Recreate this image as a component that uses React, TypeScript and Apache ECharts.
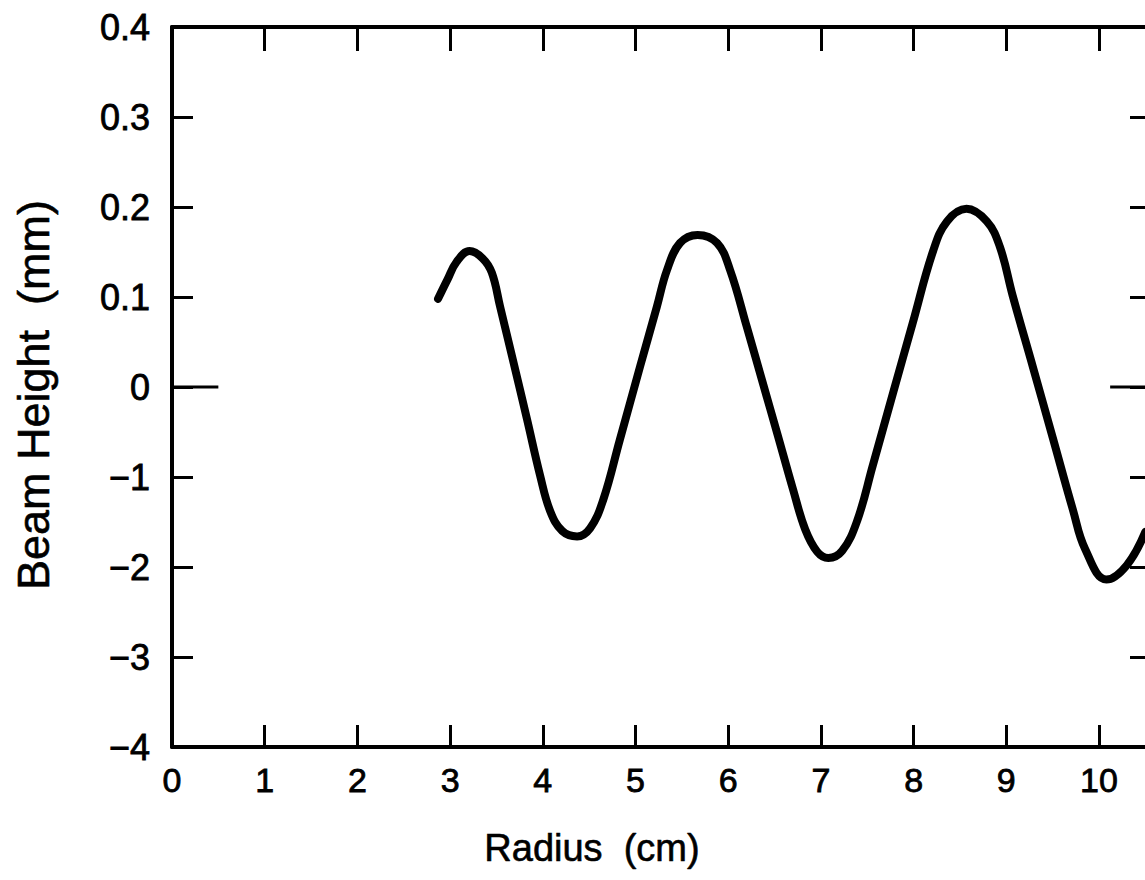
import React, { useEffect, useRef } from "react";
import * as echarts from "echarts";

// Radius (cm) of traced points along the curve
const radius = [2.87, 2.97, 3.07, 3.21, 3.35, 3.45, 3.54, 3.68, 3.83, 3.97, 4.08, 4.21, 4.37, 4.51, 4.65, 4.83, 5.05, 5.23, 5.34, 5.48, 5.67, 5.88, 6.02, 6.2, 6.38, 6.53, 6.7, 6.83, 6.96, 7.08, 7.23, 7.39, 7.56, 7.78, 7.99, 8.21, 8.36, 8.57, 8.79, 8.93, 9.07, 9.29, 9.5, 9.72, 9.85, 10.08, 10.3, 10.5];
// Beam height in axis tick units (tick +1 = "0.1" label, tick -1 = "−1" label)
const beamHeight = [0.98, 1.19, 1.39, 1.51, 1.43, 1.27, 0.89, 0.29, -0.36, -0.98, -1.38, -1.6, -1.66, -1.57, -1.26, -0.59, 0.23, 0.89, 1.3, 1.6, 1.69, 1.6, 1.3, 0.67, 0.02, -0.52, -1.14, -1.58, -1.83, -1.9, -1.82, -1.49, -0.87, -0.06, 0.71, 1.51, 1.84, 1.98, 1.84, 1.56, 1.01, 0.21, -0.56, -1.37, -1.8, -2.14, -1.98, -1.61];

const xTicks = [0, 1, 2, 3, 4, 5, 6, 7, 8, 9, 10];
const yTicks = [-4, -3, -2, -1, 0, 1, 2, 3, 4];
const yTickLabels = ["−4", "−3", "−2", "−1", "0", "0.1", "0.2", "0.3", "0.4"];

const X_MIN = 0;
const X_MAX = 10.55;
const Y_MIN = -4;
const Y_MAX = 4;

const FONT = "'Liberation Sans', Arial, Helvetica, sans-serif";

export default function App() {
  const ref = useRef<HTMLDivElement>(null);

  useEffect(() => {
    if (!ref.current) return;
    const chart = echarts.init(ref.current, undefined, { renderer: "svg" });
    const curve = radius.map((r, i) => [r, beamHeight[i]]);
    const axisLineStyle = { color: "#000", width: 4 };
    const tickStyle = { color: "#000", width: 3 };
    const heavy = { textBorderColor: "#000", textBorderWidth: 0.8 };

    chart.setOption({
      animation: false,
      backgroundColor: "#fff",
      grid: { left: 172, top: 27, width: 978, height: 720, containLabel: false },
      xAxis: [
        {
          type: "value",
          position: "bottom",
          min: X_MIN,
          max: X_MAX,
          interval: 1,
          axisLine: { show: true, onZero: false, lineStyle: axisLineStyle },
          axisTick: { show: true, inside: true, length: 22, lineStyle: tickStyle, customValues: xTicks.slice(1) },
          axisLabel: {
            show: true,
            margin: 16,
            color: "#000",
            fontSize: 34,
            fontFamily: FONT,
            ...heavy,
            customValues: xTicks,
            formatter: (v: number) => (Number.isInteger(v) ? String(v) : ""),
          },
          splitLine: { show: false },
        },
        {
          type: "value",
          position: "top",
          min: X_MIN,
          max: X_MAX,
          interval: 1,
          axisLine: { show: true, onZero: false, lineStyle: axisLineStyle },
          axisTick: { show: true, inside: true, length: 24, lineStyle: tickStyle, customValues: xTicks.slice(1) },
          axisLabel: { show: false },
          splitLine: { show: false },
        },
      ],
      yAxis: [
        {
          type: "value",
          position: "left",
          min: Y_MIN,
          max: Y_MAX,
          interval: 1,
          axisLine: { show: true, onZero: false, lineStyle: axisLineStyle },
          axisTick: { show: true, inside: true, length: 21, lineStyle: tickStyle, customValues: yTicks.slice(1, -1) },
          axisLabel: {
            show: true,
            margin: 22,
            color: "#000",
            fontSize: 36,
            fontFamily: FONT,
            ...heavy,
            customValues: yTicks,
            formatter: (v: number) => {
              const idx = yTicks.indexOf(v);
              return idx >= 0 ? yTickLabels[idx] : "";
            },
          },
          splitLine: { show: false },
        },
        {
          type: "value",
          position: "right",
          min: Y_MIN,
          max: Y_MAX,
          interval: 1,
          axisLine: { show: true, onZero: false, lineStyle: axisLineStyle },
          axisTick: { show: true, inside: true, length: 20, lineStyle: tickStyle, customValues: yTicks.slice(1, -1) },
          axisLabel: { show: false },
          splitLine: { show: false },
        },
      ],
      graphic: [
        {
          type: "text",
          x: 592,
          y: 848,
          style: {
            text: "Radius  (cm)",
            fontSize: 38,
            fontFamily: FONT,
            fill: "#000",
            stroke: "#000",
            lineWidth: 0.6,
            textAlign: "center",
            textVerticalAlign: "middle",
          },
        },
        {
          type: "text",
          x: 33,
          y: 395,
          rotation: Math.PI / 2,
          style: {
            text: "Beam Height  (mm)",
            fontSize: 45,
            fontFamily: FONT,
            fill: "#000",
            stroke: "#000",
            lineWidth: 0.6,
            textAlign: "center",
            textVerticalAlign: "middle",
          },
        },
      ],
      series: [
        {
          type: "line",
          data: curve,
          smooth: 0.4,
          showSymbol: false,
          symbol: "none",
          clip: true,
          lineStyle: { color: "#000", width: 8, cap: "round", join: "round" },
        },
        {
          type: "line",
          data: [[0, 0], [0.5, 0]],
          symbol: "none",
          lineStyle: { color: "#000", width: 3 },
        },
        {
          type: "line",
          data: [[10.12, 0], [X_MAX, 0]],
          symbol: "none",
          lineStyle: { color: "#000", width: 3 },
        },
      ],
    });

    return () => chart.dispose();
  }, []);

  return (
    <div style={{ position: "fixed", left: 0, top: 0, width: 1145, height: 880, overflow: "hidden", background: "#fff" }}>
      <div ref={ref} style={{ width: 1160, height: 880 }} />
    </div>
  );
}
